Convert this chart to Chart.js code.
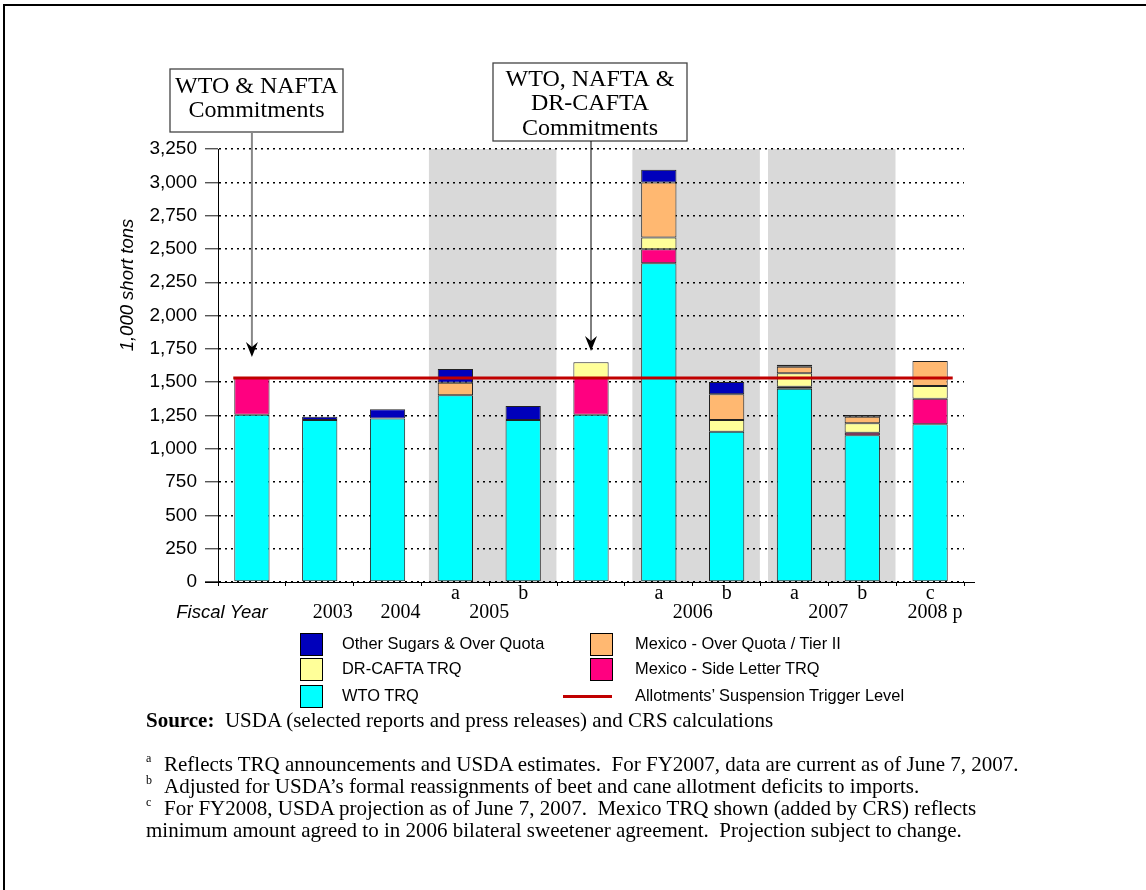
<!DOCTYPE html>
<html>
<head>
<meta charset="utf-8">
<script src="https://cdn.jsdelivr.net/npm/chart.js@4/dist/chart.umd.min.js"></script>
<style>
  body { margin: 0; background: #fff; }
  #wrap { position: relative; width: 1146px; height: 890px; overflow: hidden; background: #fff; }
  #frame { position: absolute; left: 3px; top: 4px; width: 1200px; height: 1000px; border-top: 2px solid #000; border-left: 2px solid #000; z-index: 3; }
  canvas { position: absolute; left: 0; top: 0; }
  .lg { position: absolute; font: 16.4px "Liberation Sans", Arial, sans-serif; color: #000; white-space: nowrap; z-index: 2; }
  .sw { position: absolute; width: 21px; height: 21px; border: 1px solid #000; z-index: 2; }
  .ln { position: absolute; height: 3px; background: #C00000; z-index: 2; }
  .tx { position: absolute; font: 21px "Liberation Serif", "Times New Roman", serif; color: #000; white-space: nowrap; z-index: 2; line-height: 22px; }
  .sup { position: absolute; font: 12px "Liberation Serif", serif; color: #000; z-index: 2; }
</style>
</head>
<body>
<div id="wrap">
  <div id="frame"></div>
  <canvas id="chart" width="1146" height="890"></canvas>
  <div id="legend"></div>
  <div class="tx" style="left:146px; top:709px;"><b>Source:</b>&nbsp; USDA (selected reports and press releases) and CRS calculations</div>
  <span class="sup" style="left:146px; top:751px;">a</span>
  <div class="tx" style="left:164px; top:753px;">Reflects TRQ announcements and USDA estimates.&nbsp; For FY2007, data are current as of June 7, 2007.</div>
  <span class="sup" style="left:146px; top:773px;">b</span>
  <div class="tx" style="left:164px; top:775px;">Adjusted for USDA’s formal reassignments of beet and cane allotment deficits to imports.</div>
  <span class="sup" style="left:146px; top:795px;">c</span>
  <div class="tx" style="left:164px; top:797px;">For FY2008, USDA projection as of June 7, 2007.&nbsp; Mexico TRQ shown (added by CRS) reflects</div>
  <div class="tx" style="left:146px; top:819px;">minimum amount agreed to in 2006 bilateral sweetener agreement.&nbsp; Projection subject to change.</div>
</div>
<script>
// data (1,000 short tons)
var tickLetters = ["", "", "", "a", "b", "", "a", "b", "a", "b", "c"];
var wtoTRQ        = [1256, 1215, 1228, 1401, 1216, 1256, 2392, 1128, 1451, 1101, 1184];
var mexSideLetter = [276, null, null, null, null, 276, 105, null, 15, 20, 192];
var drCafta       = [null, null, null, null, null, 118, 88, 88, 100, 70, 95];
var mexOverQuota  = [null, null, null, 95, null, null, 413, 193, 50, 50, 188];
var otherSugars   = [null, 25, 68, 103, 105, null, 97, 93, 15, 13, null];
var triggerLevel = 1532;

var yearLabels = ["2003", "2004", "2005", "2006", "2007", "2008 p"];
var yearFirst  = [1, 2, 3, 6, 8, 10];
var yearLast   = [1, 2, 4, 7, 9, 10];
var shadedFirst = [3, 6, 8];
var shadedLast  = [4, 7, 9];

// small pixel nudges for the year row
var yearNudge = [13, 13, 0, 0, 0, 5];

function ds(label, data, color) {
  return {
    label: label, data: data, backgroundColor: color,
    borderColor: "#222", borderWidth: 1, borderSkipped: false,
    barPercentage: 0.52, categoryPercentage: 1.0
  };
}

var decor = {
  id: "decor",
  beforeDraw: function (chart) {
    var ctx = chart.ctx, x = chart.scales.x, a = chart.chartArea;
    var cw = x.getPixelForValue(1) - x.getPixelForValue(0);
    ctx.save();
    ctx.fillStyle = "#fff";
    ctx.fillRect(0, 0, chart.width, chart.height);
    ctx.fillStyle = "#d9d9d9";
    for (var i = 0; i < shadedFirst.length; i++) {
      var l = x.getPixelForValue(shadedFirst[i]) - 0.39 * cw;
      var r = x.getPixelForValue(shadedLast[i]) + 0.49 * cw;
      ctx.fillRect(l, a.top, r - l, a.bottom - a.top);
    }
    ctx.restore();
  },
  afterDatasetsDraw: function (chart) {
    var ctx = chart.ctx, x = chart.scales.x, y = chart.scales.y, a = chart.chartArea;
    var cw = x.getPixelForValue(1) - x.getPixelForValue(0);
    var half = 0.52 * cw / 2;
    var yy = y.getPixelForValue(triggerLevel);
    ctx.save();
    // axis line runs a little past the plot, as in the original
    ctx.strokeStyle = "#000";
    ctx.lineWidth = 1;
    ctx.beginPath();
    ctx.moveTo(a.left - 13, a.bottom + 0.5);
    ctx.lineTo(a.right + 11, a.bottom + 0.5);
    ctx.stroke();
    ctx.strokeStyle = "#C00000";
    ctx.lineWidth = 3;
    ctx.beginPath();
    ctx.moveTo(x.getPixelForValue(0) - half - 1, yy);
    ctx.lineTo(x.getPixelForValue(tickLetters.length - 1) + half + 5, yy);
    ctx.stroke();
    ctx.restore();
  },
  afterDraw: function (chart) {
    var ctx = chart.ctx, x = chart.scales.x, a = chart.chartArea;
    ctx.save();
    // year row
    ctx.fillStyle = "#000";
    ctx.textBaseline = "middle";
    ctx.textAlign = "center";
    ctx.font = "italic 18.5px 'Liberation Sans', Arial, sans-serif";
    ctx.fillText("Fiscal Year", a.left + 4, 613);
    ctx.font = "20px 'Liberation Serif', 'Times New Roman', serif";
    for (var i = 0; i < yearLabels.length; i++) {
      var cx = (x.getPixelForValue(yearFirst[i]) + x.getPixelForValue(yearLast[i])) / 2 + yearNudge[i];
      ctx.fillText(yearLabels[i], cx, 613);
    }
    // y axis title
    ctx.save();
    ctx.translate(128, 285);
    ctx.rotate(-Math.PI / 2);
    ctx.font = "italic 18.5px 'Liberation Sans', Arial, sans-serif";
    ctx.fillText("1,000 short tons", 0, 0);
    ctx.restore();

    // commitment boxes with arrows
    function box(l, t, r, b, lines, lineY) {
      ctx.fillStyle = "#fff";
      ctx.fillRect(l, t, r - l, b - t);
      ctx.strokeStyle = "#444";
      ctx.lineWidth = 1.3;
      ctx.strokeRect(l, t, r - l, b - t);
      ctx.fillStyle = "#000";
      ctx.font = "24px 'Liberation Serif', 'Times New Roman', serif";
      for (var k = 0; k < lines.length; k++) ctx.fillText(lines[k], (l + r) / 2, lineY[k]);
    }
    function arrow(ax, y0, tip, color, w) {
      ctx.strokeStyle = color;
      ctx.lineWidth = w;
      ctx.beginPath();
      ctx.moveTo(ax, y0);
      ctx.lineTo(ax, tip - 8);
      ctx.stroke();
      ctx.fillStyle = "#000";
      ctx.beginPath();
      ctx.moveTo(ax, tip);
      ctx.lineTo(ax - 6, tip - 15);
      ctx.lineTo(ax, tip - 10);
      ctx.lineTo(ax + 6, tip - 15);
      ctx.closePath();
      ctx.fill();
    }
    box(170, 69, 343, 132, ["WTO & NAFTA", "Commitments"], [87, 111]);
    arrow(x.getPixelForValue(0), 132, 357, "#888", 2);
    box(493, 63, 687, 141, ["WTO, NAFTA &", "DR-CAFTA", "Commitments"], [80, 104, 129]);
    arrow(x.getPixelForValue(5), 141, 351, "#000", 1);
    ctx.restore();
  }
};

var myChart = new Chart(document.getElementById("chart"), {
  type: "bar",
  data: {
    labels: tickLetters,
    datasets: [
      ds("WTO TRQ", wtoTRQ, "#00FFFF"),
      ds("Mexico - Side Letter TRQ", mexSideLetter, "#FF0080"),
      ds("DR-CAFTA TRQ", drCafta, "#FFFF99"),
      ds("Mexico - Over Quota / Tier II", mexOverQuota, "#FFB871"),
      ds("Other Sugars & Over Quota", otherSugars, "#0000BB")
    ]
  },
  options: {
    responsive: false,
    animation: false,
    events: [],
    layout: { padding: { left: 0, top: 149, right: 182, bottom: 268 } },
    plugins: { legend: { display: false }, tooltip: { enabled: false } },
    scales: {
      x: {
        stacked: true,
        offset: true,
        ticks: { color: "#000", font: { family: "'Liberation Serif', serif", size: 20 }, padding: -4, autoSkip: false, maxRotation: 0 },
        grid: { drawOnChartArea: false, drawTicks: true, tickLength: 4, color: "#000" },
        border: { color: "#000", width: 1 },
        afterFit: function (s) { s.height = 40; }
      },
      y: {
        stacked: true,
        min: 0,
        max: 3250,
        ticks: { stepSize: 250, color: "#000", font: { family: "'Liberation Sans', Arial, sans-serif", size: 19 }, padding: 8 },
        grid: { color: "#000", lineWidth: 1.4, tickLength: 13, tickColor: "#555" },
        border: { color: "#000", width: 1, dash: [2, 4] },
        afterFit: function (s) { s.width = 218; }
      }
    }
  },
  plugins: [decor]
});

// legend (two columns, built from the datasets)
var legendItems = [
  { i: 4, col: 0, row: 0 }, { i: 3, col: 1, row: 0 },
  { i: 2, col: 0, row: 1 }, { i: 1, col: 1, row: 1 },
  { i: 0, col: 0, row: 2 }
];
var lg = document.getElementById("legend");
var colSw = [300, 590], colTx = [342, 635], rowTop = [633, 658, 685];
legendItems.forEach(function (it) {
  var d = myChart.data.datasets[it.i];
  var s = document.createElement("div");
  s.className = "sw";
  s.style.left = colSw[it.col] + "px";
  s.style.top = rowTop[it.row] + "px";
  s.style.background = d.backgroundColor;
  lg.appendChild(s);
  var t = document.createElement("div");
  t.className = "lg";
  t.style.left = colTx[it.col] + "px";
  t.style.top = (rowTop[it.row] + 1) + "px";
  t.textContent = d.label;
  lg.appendChild(t);
});
var ln = document.createElement("div");
ln.className = "ln";
ln.style.left = "563px"; ln.style.top = "695px"; ln.style.width = "49px";
lg.appendChild(ln);
var lt = document.createElement("div");
lt.className = "lg";
lt.style.left = "635px"; lt.style.top = "686px";
lt.textContent = "Allotments’ Suspension Trigger Level";
lg.appendChild(lt);
</script>
</body>
</html>
